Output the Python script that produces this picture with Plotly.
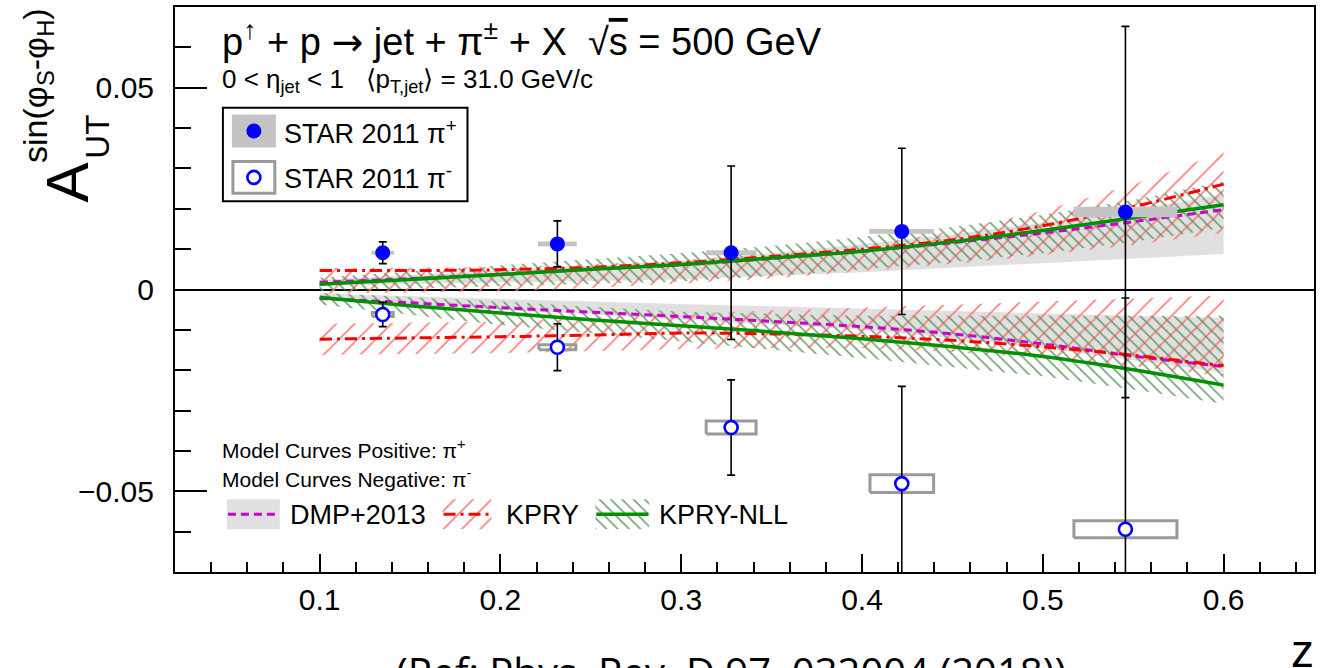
import plotly.graph_objects as go

# ---------------- STAR 2011 measurements ----------------
z_pts = [0.1349, 0.2315, 0.3276, 0.4220, 0.5457]

a_pip = [0.0091, 0.0113, 0.0091, 0.0144, 0.0192]
stat_pip = [0.0027, 0.0057, 0.0215, 0.0206, 0.0460]
sysz_pip = [0.0063, 0.0107, 0.0140, 0.0179, 0.0287]
sysa_pip = [0.0005, 0.0006, 0.0006, 0.0006, 0.0013]

a_pim = [-0.0062, -0.0143, -0.0342, -0.0481, -0.0594]
stat_pim = [0.0030, 0.0058, 0.0118, 0.0241, 0.0573]
sysz_pim = [0.0058, 0.0102, 0.0138, 0.0176, 0.0285]
sysa_pim = [0.0005, 0.0006, 0.0016, 0.0022, 0.0021]

# ---------------- model curves ----------------
z_mod = [0.10, 0.15, 0.20, 0.25, 0.30, 0.35, 0.40, 0.45, 0.50, 0.55, 0.60]

dmp_pos = [0.0018, 0.0027, 0.0038, 0.0050, 0.0061, 0.0077, 0.0095, 0.0116, 0.0140, 0.0168, 0.0198]
dmp_pos_lo = [0.0010, 0.0013, 0.0017, 0.0021, 0.0025, 0.0034, 0.0043, 0.0055, 0.0066, 0.0077, 0.0088]
dmp_pos_hi = [0.0024, 0.0035, 0.0047, 0.0059, 0.0072, 0.0090, 0.0112, 0.0137, 0.0165, 0.0198, 0.0235]

dmp_neg = [-0.0022, -0.0033, -0.0045, -0.0056, -0.0067, -0.0079, -0.0092, -0.0110, -0.0135, -0.0165, -0.0191]
dmp_neg_hi = [-0.0010, -0.0017, -0.0024, -0.0030, -0.0036, -0.0042, -0.0048, -0.0054, -0.0060, -0.0065, -0.0070]
dmp_neg_lo = [-0.0026, -0.0038, -0.0050, -0.0062, -0.0074, -0.0087, -0.0100, -0.0120, -0.0145, -0.0175, -0.0205]

kpry_pos = [0.0047, 0.0047, 0.0049, 0.0055, 0.0066, 0.0082, 0.0100, 0.0123, 0.0158, 0.0205, 0.0261]
kpry_pos_lo = [-0.0010, -0.0008, -0.0005, 0.0004, 0.0015, 0.0028, 0.0045, 0.0063, 0.0085, 0.0110, 0.0140]
kpry_pos_hi = [0.0053, 0.0054, 0.0056, 0.0063, 0.0073, 0.0088, 0.0108, 0.0145, 0.0195, 0.0260, 0.0340]

kpry_neg = [-0.0123, -0.0120, -0.0117, -0.0113, -0.0108, -0.0110, -0.0116, -0.0126, -0.0142, -0.0163, -0.0189]
kpry_neg_hi = [-0.0085, -0.0083, -0.0080, -0.0070, -0.0060, -0.0052, -0.0045, -0.0037, -0.0030, -0.0022, -0.0015]
kpry_neg_lo = [-0.0162, -0.0160, -0.0158, -0.0153, -0.0148, -0.0145, -0.0145, -0.0155, -0.0170, -0.0190, -0.0215]

nll_pos = [0.0013, 0.0025, 0.0037, 0.0050, 0.0062, 0.0078, 0.0095, 0.0118, 0.0146, 0.0178, 0.0210]
nll_pos_lo = [-0.0004, 0.0002, 0.0008, 0.0014, 0.0020, 0.0033, 0.0050, 0.0068, 0.0090, 0.0118, 0.0153]
nll_pos_hi = [0.0029, 0.0045, 0.0060, 0.0075, 0.0090, 0.0108, 0.0130, 0.0155, 0.0185, 0.0222, 0.0268]

nll_neg = [-0.0019, -0.0040, -0.0058, -0.0075, -0.0090, -0.0105, -0.0122, -0.0142, -0.0166, -0.0199, -0.0237]
nll_neg_hi = [-0.0008, -0.0019, -0.0030, -0.0043, -0.0055, -0.0060, -0.0065, -0.0065, -0.0065, -0.0065, -0.0065]
nll_neg_lo = [-0.0037, -0.0063, -0.0088, -0.0108, -0.0128, -0.0149, -0.0170, -0.0192, -0.0215, -0.0248, -0.0283]

# axis ticks
x_ticks = [0.1, 0.2, 0.3, 0.4, 0.5, 0.6]
y_ticks = [-0.05, 0.0, 0.05]
y_tick_text = ["\u22120.05", "0", "0.05"]

# ---------------- styling ----------------
FONT = "Liberation Sans"
GREY_BAND = "#e0e0e0"
RED_HATCH = "#ff7070"
GREEN_HATCH = "#5f965f"
MAGENTA = "#cc00cc"
RED = "#ff0000"
GREEN = "#009000"
BLUE = "#0000ff"

FIG_W, FIG_H = 1321, 668
L, R, T, B = 175, 1316, 5, 572
W, H = R - L, B - T


def px(x):
    return (x - L) / W


def py(y):
    return (B - y) / H


def band(z, lo, hi):
    return list(z) + list(z)[::-1], list(hi) + list(lo)[::-1]


def boxes(z, a, dz, da):
    xs, ys = [], []
    for zi, ai, dzi, dai in zip(z, a, dz, da):
        xs += [zi - dzi, zi + dzi, zi + dzi, zi - dzi, zi - dzi, None]
        ys += [ai - dai, ai - dai, ai + dai, ai + dai, ai - dai, None]
    return xs, ys


red_pat = dict(shape="/", fgcolor=RED_HATCH, fgopacity=0.9, bgcolor="rgba(0,0,0,0)",
               size=13, solidity=0.13)
green_pat = dict(shape="\\", fgcolor=GREEN_HATCH, fgopacity=0.9, bgcolor="rgba(0,0,0,0)",
                 size=8, solidity=0.19)

fig = go.Figure()

# DMP+2013 grey uncertainty bands
for lo, hi in [(dmp_pos_lo, dmp_pos_hi), (dmp_neg_lo, dmp_neg_hi)]:
    bx, by = band(z_mod, lo, hi)
    fig.add_trace(go.Scatter(x=bx, y=by, fill="toself", fillcolor=GREY_BAND,
                             line=dict(width=0), mode="lines", hoverinfo="skip"))

# KPRY hatched bands
for lo, hi in [(kpry_pos_lo, kpry_pos_hi), (kpry_neg_lo, kpry_neg_hi)]:
    bx, by = band(z_mod, lo, hi)
    fig.add_trace(go.Scatter(x=bx, y=by, fill="toself", fillcolor="rgba(0,0,0,0)",
                             fillpattern=red_pat, line=dict(width=0), mode="lines",
                             hoverinfo="skip"))

# KPRY-NLL hatched bands
for lo, hi in [(nll_pos_lo, nll_pos_hi), (nll_neg_lo, nll_neg_hi)]:
    bx, by = band(z_mod, lo, hi)
    fig.add_trace(go.Scatter(x=bx, y=by, fill="toself", fillcolor="rgba(0,0,0,0)",
                             fillpattern=green_pat, line=dict(width=0), mode="lines",
                             hoverinfo="skip"))

# central model curves
for ys in (dmp_pos, dmp_neg):
    fig.add_trace(go.Scatter(x=z_mod, y=ys, mode="lines",
                             line=dict(color=MAGENTA, width=3, dash="8px,5px", shape="spline")))
for ys in (kpry_pos, kpry_neg):
    fig.add_trace(go.Scatter(x=z_mod, y=ys, mode="lines",
                             line=dict(color=RED, width=3, dash="12px,5px,3px,5px",
                                       shape="spline")))
for ys in (nll_pos, nll_neg):
    fig.add_trace(go.Scatter(x=z_mod, y=ys, mode="lines",
                             line=dict(color=GREEN, width=3.5, shape="spline")))

# systematic boxes
bx, by = boxes(z_pts, a_pip, sysz_pip, sysa_pip)
fig.add_trace(go.Scatter(x=bx, y=by, fill="toself", fillcolor="#c4c4c4",
                         line=dict(width=0), mode="lines", hoverinfo="skip"))
bx, by = boxes(z_pts, a_pim, sysz_pim, sysa_pim)
fig.add_trace(go.Scatter(x=bx, y=by, fill="none", mode="lines",
                         line=dict(color="#9a9a9a", width=3), hoverinfo="skip"))

# data points with statistical errors
fig.add_trace(go.Scatter(
    x=z_pts, y=a_pip, mode="markers",
    marker=dict(symbol="circle", size=15, color=BLUE, line=dict(width=0)),
    error_y=dict(type="data", array=stat_pip, color="black", thickness=1.6, width=4)))
fig.add_trace(go.Scatter(
    x=z_pts, y=a_pim, mode="markers",
    marker=dict(symbol="circle", size=13, color="white", line=dict(width=2.6, color=BLUE)),
    error_y=dict(type="data", array=stat_pim, color="black", thickness=1.6, width=4)))

# ---------------- legends (drawn on a pixel-scaled overlay axis) ----------------
shapes = []
annotations = []


def ptext(x, y, text, size, anchor="left", angle=0, font=FONT, color="black"):
    annotations.append(dict(x=px(x), y=py(y), xref="paper", yref="paper", text=text,
                            showarrow=False, xanchor=anchor, yanchor="middle",
                            textangle=angle, font=dict(family=font, size=size, color=color)))


def rect(x0, y0, x1, y1, fill=None, line_color=None, lw=0, layer="below"):
    shapes.append(dict(type="rect", xref="x2", yref="y2", x0=x0, y0=y0, x1=x1, y1=y1,
                       fillcolor=fill if fill else "rgba(0,0,0,0)",
                       line=dict(color=line_color if line_color else "rgba(0,0,0,0)", width=lw),
                       layer=layer))


def swatch(x0, y0, x1, y1, pat):
    fig.add_trace(go.Scatter(x=[x0, x1, x1, x0, x0], y=[y0, y0, y1, y1, y0],
                             xaxis="x2", yaxis="y2", fill="toself",
                             fillcolor="rgba(0,0,0,0)", fillpattern=pat,
                             line=dict(width=0), mode="lines", hoverinfo="skip"))


def sample_line(x0, x1, y, line):
    fig.add_trace(go.Scatter(x=[x0, x1], y=[y, y], xaxis="x2", yaxis="y2",
                             mode="lines", line=line, hoverinfo="skip"))


# STAR legend box
rect(223, 106, 468, 200, line_color="black", lw=2, layer="above")
rect(232, 113, 276, 146, fill="#c4c4c4")
rect(233, 160, 275, 192, line_color="#9a9a9a", lw=3)
fig.add_trace(go.Scatter(x=[254], y=[129.5], xaxis="x2", yaxis="y2", mode="markers",
                         marker=dict(symbol="circle", size=15, color=BLUE), hoverinfo="skip"))
fig.add_trace(go.Scatter(x=[254], y=[176], xaxis="x2", yaxis="y2", mode="markers",
                         marker=dict(symbol="circle", size=13, color="white",
                                     line=dict(width=2.6, color=BLUE)), hoverinfo="skip"))
ptext(282, 130, "STAR 2011 \u03c0<sup>+</sup>", 27)
ptext(282, 176, "STAR 2011 \u03c0<sup>-</sup>", 27)

# model legend
ptext(220, 449, "Model Curves Positive: \u03c0<sup>+</sup>", 21)
ptext(220, 478, "Model Curves Negative: \u03c0<sup>-</sup>", 21)
rect(227, 499, 280, 529, fill=GREY_BAND)
sample_line(228, 280, 514, dict(color=MAGENTA, width=3, dash="8px,5px"))
ptext(288, 515, "DMP+2013", 27)
swatch(443, 499, 492, 529, red_pat)
sample_line(444, 491, 514, dict(color=RED, width=3, dash="12px,5px,3px,5px"))
ptext(505, 515, "KPRY", 27)
swatch(596, 499, 650, 529, green_pat)
sample_line(597, 649, 514, dict(color=GREEN, width=3.5))
ptext(658, 515, "KPRY-NLL", 27)

# header texts
ptext(220, 38, "p<sup>\u2191</sup> + p <span style='font-family:DejaVu Sans'>\u2192</span> "
      "jet + \u03c0<sup>\u00b1</sup> + X  "
      "\u221a<span style='text-decoration:overline'>s</span> = 500 GeV", 38)
ptext(220, 79, "0 < \u03b7<sub>jet</sub> < 1   \u27e8p<sub>T,jet</sub>\u27e9 = 31.0 GeV/c", 26)

# axis titles
ptext(67, 181, "A", 60, anchor="center", angle=-90)
ptext(97, 135, "UT", 33, anchor="center", angle=-90)
ptext(37, 84, "sin(\u03c6<sub>S</sub>-\u03c6<sub>H</sub>)", 34, anchor="center", angle=-90)
ptext(1318, 651, "z", 46, anchor="right")

# reference line under the figure
ptext(732, 672, "(Ref: Phys. Rev. D 97, 032004 (2018))", 40, anchor="center", font="Open Sans")

fig.update_layout(
    width=FIG_W, height=FIG_H,
    margin=dict(l=L, r=FIG_W - R, t=T, b=FIG_H - B),
    paper_bgcolor="white", plot_bgcolor="white",
    showlegend=False,
    font=dict(family=FONT, color="black"),
    shapes=shapes, annotations=annotations,
    xaxis=dict(range=[0.02, 0.65], tickmode="array", tickvals=x_ticks,
               ticktext=[f"{v:.1f}" for v in x_ticks],
               ticks="inside", ticklen=18, tickwidth=1.5, tickcolor="black",
               minor=dict(tickmode="linear", tick0=0, dtick=0.02, ticks="inside",
                          ticklen=10, tickwidth=1.5, tickcolor="black"),
               showline=True, linewidth=2, linecolor="black", mirror=True,
               showgrid=False, zeroline=False,
               tickfont=dict(family=FONT, size=30), ticklabelstandoff=0),
    yaxis=dict(range=[-0.07, 0.07], tickmode="array", tickvals=y_ticks,
               ticktext=y_tick_text,
               ticks="inside", ticklen=32, tickwidth=1.5, tickcolor="black",
               minor=dict(tickmode="linear", tick0=0, dtick=0.01, ticks="inside",
                          ticklen=16, tickwidth=1.5, tickcolor="black"),
               showline=True, linewidth=2, linecolor="black", mirror=True,
               showgrid=False, zeroline=True, zerolinecolor="black", zerolinewidth=1.5,
               tickfont=dict(family=FONT, size=30), ticklabelstandoff=13),
    xaxis2=dict(range=[L, R], overlaying="x", visible=False, fixedrange=True),
    yaxis2=dict(range=[B, T], overlaying="y", visible=False, fixedrange=True),
)

fig.write_html("out.html")
